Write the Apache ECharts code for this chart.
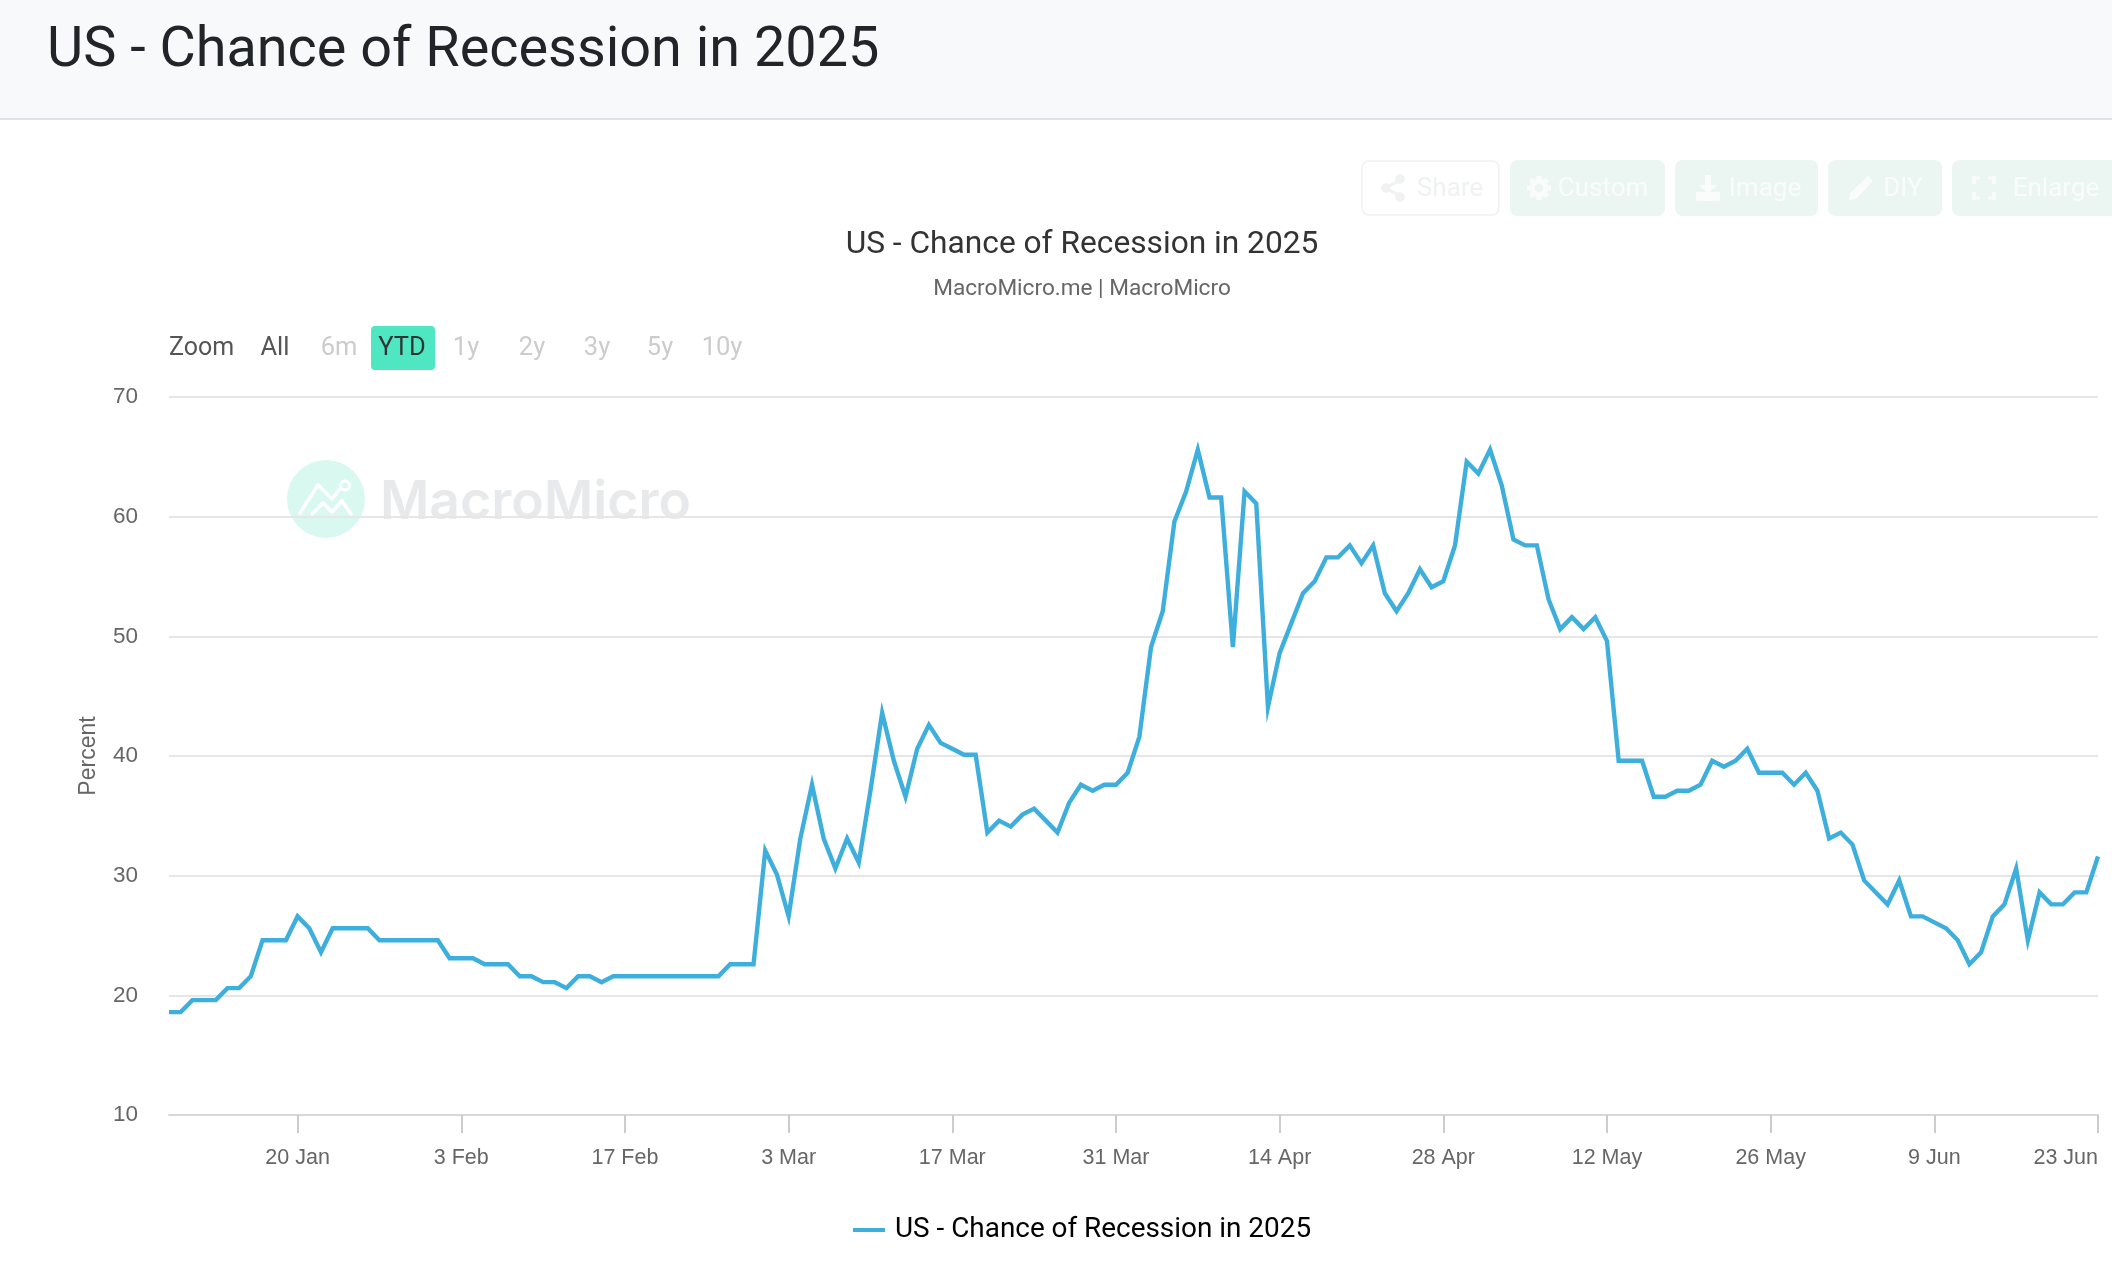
<!DOCTYPE html>
<html>
<head>
<meta charset="utf-8">
<title>US - Chance of Recession in 2025</title>
<style>
  html, body { margin: 0; padding: 0; background: #fff; }
  #chart { width: 2112px; height: 1264px; }
</style>
<script src="https://cdn.jsdelivr.net/npm/echarts@6/dist/echarts.min.js"></script>
</head>
<body>
<div id="chart"></div>
<script>
// Daily readings, 9 Jan to 23 Jun 2025
const seriesName = 'US - Chance of Recession in 2025';
const sourceLine = 'MacroMicro.me | MacroMicro';
const firstDay = '2025-01-09';
const recessionChance = [
  18.6,18.6,19.6,19.6,19.6,20.6,20.6,21.6,24.6,24.6,24.6,26.6,25.6,23.6,25.6,25.6,25.6,25.6,24.6,24.6,
  24.6,24.6,24.6,24.6,23.1,23.1,23.1,22.6,22.6,22.6,21.6,21.6,21.1,21.1,20.6,21.6,21.6,21.1,21.6,21.6,
  21.6,21.6,21.6,21.6,21.6,21.6,21.6,21.6,22.6,22.6,22.6,32.1,30.1,26.6,33.1,37.6,33.1,30.6,33.1,31.1,
  37.1,43.6,39.6,36.6,40.6,42.6,41.1,40.6,40.1,40.1,33.6,34.6,34.1,35.1,35.6,34.6,33.6,36.1,37.6,37.1,
  37.6,37.6,38.6,41.6,49.1,52.1,59.6,62.1,65.6,61.6,61.6,49.1,62.1,61.1,44.1,48.6,51.1,53.6,54.6,56.6,
  56.6,57.6,56.1,57.6,53.6,52.1,53.6,55.6,54.1,54.6,57.6,64.6,63.6,65.6,62.6,58.1,57.6,57.6,53.1,50.6,
  51.6,50.6,51.6,49.6,39.6,39.6,39.6,36.6,36.6,37.1,37.1,37.6,39.6,39.1,39.6,40.6,38.6,38.6,38.6,37.6,
  38.6,37.1,33.1,33.6,32.6,29.6,28.6,27.6,29.6,26.6,26.6,26.1,25.6,24.6,22.6,23.6,26.6,27.6,30.6,24.6,
  28.6,27.6,27.6,28.6,28.6,31.6
];
const xTickLabels = ['20 Jan','3 Feb','17 Feb','3 Mar','17 Mar','31 Mar','14 Apr','28 Apr','12 May','26 May','9 Jun','23 Jun'];
const yTicks = { min: 10, max: 70, step: 10 };
const rangeButtons = [
  ['All', 275, '#555555'], ['6m', 339, '#cccccc'], ['YTD', 402, '#333333'], ['1y', 466, '#cccccc'],
  ['2y', 532, '#cccccc'], ['3y', 597, '#cccccc'], ['5y', 660, '#cccccc'], ['10y', 722, '#cccccc']
];

const MONTHS = ['Jan','Feb','Mar','Apr','May','Jun','Jul','Aug','Sep','Oct','Nov','Dec'];
const dayNames = recessionChance.map((_, i) => {
  const d = new Date(Date.parse(firstDay + 'T00:00:00Z') + i * 86400000);
  return d.getUTCDate() + ' ' + MONTHS[d.getUTCMonth()];
});

const UI_FONT = 'Roboto, "Noto Sans", sans-serif';
const MARK_FONT = 'Inter, "Noto Sans", sans-serif';
const AXIS_FONT = '"Liberation Sans", Arial, sans-serif';

const label = (text, x, y, size, fill, align, weight, family) => ({
  type: 'text',
  silent: true,
  style: {
    text, x, y, fill,
    fontFamily: family || UI_FONT,
    fontSize: size,
    fontWeight: weight || 'normal',
    textAlign: align || 'center',
    textVerticalAlign: 'middle'
  }
});
const box = (x, y, w, h, r, fill, stroke) => ({
  type: 'rect', silent: true,
  shape: { x, y, width: w, height: h, r },
  style: stroke ? { fill, stroke, lineWidth: 2 } : { fill }
});

// Toolbar icons are small groups of primitive shapes around a local origin
const shareIcon = (x, y, c) => ({
  type: 'group', x, y, silent: true,
  children: [
    { type: 'polyline', shape: { points: [[7, -8], [-7, 0], [7, 8]] }, style: { stroke: c, lineWidth: 3, fill: null } },
    { type: 'circle', shape: { cx: 7, cy: -9, r: 4.8 }, style: { fill: c } },
    { type: 'circle', shape: { cx: -7, cy: 0, r: 4.8 }, style: { fill: c } },
    { type: 'circle', shape: { cx: 7, cy: 9, r: 4.8 }, style: { fill: c } }
  ]
});
const gearIcon = (x, y, c, bg) => ({
  type: 'group', x, y, silent: true,
  children: [
    ...[0, 45, 90, 135].map(a => ({
      type: 'line',
      shape: {
        x1: -12 * Math.cos(a * Math.PI / 180), y1: -12 * Math.sin(a * Math.PI / 180),
        x2: 12 * Math.cos(a * Math.PI / 180), y2: 12 * Math.sin(a * Math.PI / 180)
      },
      style: { stroke: c, lineWidth: 5 }
    })),
    { type: 'circle', shape: { cx: 0, cy: 0, r: 9.5 }, style: { fill: c } },
    { type: 'circle', shape: { cx: 0, cy: 0, r: 4 }, style: { fill: bg } }
  ]
});
const downloadIcon = (x, y, c) => ({
  type: 'group', x, y, silent: true,
  children: [
    { type: 'polygon', shape: { points: [[-3, -13], [3, -13], [3, -3], [9, -3], [0, 6], [-9, -3], [-3, -3]] }, style: { fill: c } },
    { type: 'rect', shape: { x: -12, y: 4, width: 24, height: 9, r: 2 }, style: { fill: c } }
  ]
});
const pencilIcon = (x, y, c) => ({
  type: 'group', x, y, silent: true,
  children: [
    { type: 'polygon', shape: { points: [[7, -12], [12, -7], [-5, 11], [-12, 12], [-11, 5]] }, style: { fill: c } }
  ]
});
const enlargeIcon = (x, y, c) => {
  const corner = (sx, sy) => ({
    type: 'polyline',
    shape: { points: [[sx * 10, sy * 4], [sx * 10, sy * 10], [sx * 4, sy * 10]] },
    style: { stroke: c, lineWidth: 3.6, fill: null }
  });
  return { type: 'group', x, y, silent: true, children: [corner(-1, -1), corner(1, -1), corner(-1, 1), corner(1, 1)] };
};

const TOOL_BG = '#ebf5f1';
const TOOL_FG = '#f9fcfb';
const pageGraphics = [
  // Page heading band
  box(0, 0, 2112, 118, 0, '#f8f9fa'),
  box(0, 118, 2112, 2, 0, '#dee2e6'),
  label(seriesName, 47, 52, 55.8, '#212529', 'left'),

  // Toolbar buttons
  box(1362, 161, 137, 54, 7, '#ffffff', '#f4f4f4'),
  shareIcon(1393, 188, '#f0f1f1'),
  label('Share', 1450, 189, 26, '#f0f1f1'),
  box(1510, 160, 155, 56, 8, TOOL_BG),
  gearIcon(1539, 188, TOOL_FG, TOOL_BG),
  label('Custom', 1603, 189, 26, TOOL_FG),
  box(1675, 160, 143, 56, 8, TOOL_BG),
  downloadIcon(1708, 188, TOOL_FG),
  label('Image', 1765, 189, 26, TOOL_FG),
  box(1828, 160, 114, 56, 8, TOOL_BG),
  pencilIcon(1861, 188, TOOL_FG),
  label('DIY', 1903, 189, 26, TOOL_FG),
  box(1952, 160, 170, 56, 8, TOOL_BG),
  enlargeIcon(1984, 188, TOOL_FG),
  label('Enlarge', 2056, 189, 26, TOOL_FG),

  // Range selector
  label('Zoom', 169, 349, 25, '#555555', 'left'),
  box(371, 326, 64, 44, 4, '#4fe6c2'),
  ...rangeButtons.map(b => label(b[0], b[1], 349, 25.5, b[2])),

  // Watermark, behind the grid lines
  { type: 'circle', silent: true, z: -1, shape: { cx: 326, cy: 499, r: 39 }, style: { fill: '#d9f8f0' } },
  { type: 'polyline', silent: true, z: -1,
    shape: { points: [[300, 513], [318, 485], [332, 499], [342, 486]] },
    style: { stroke: '#ffffff', lineWidth: 3.6, fill: null, lineCap: 'round', lineJoin: 'round' } },
  { type: 'polyline', silent: true, z: -1,
    shape: { points: [[312, 514], [323, 503], [332, 512], [342, 501], [351, 514]] },
    style: { stroke: '#ffffff', lineWidth: 3.6, fill: null, lineCap: 'round', lineJoin: 'round' } },
  { type: 'circle', silent: true, z: -1, shape: { cx: 345, cy: 485.5, r: 4.5 }, style: { fill: '#d9f8f0', stroke: '#ffffff', lineWidth: 3 } },
  Object.assign(label('MacroMicro', 380, 503, 53.5, '#e8e9ea', 'left', 600, MARK_FONT), { z: -1 })
];

const chart = echarts.init(document.getElementById('chart'), null, { renderer: 'canvas' });
chart.setOption({
  animation: false,
  backgroundColor: '#ffffff',
  textStyle: { fontFamily: UI_FONT },
  title: [
    {
      text: seriesName, subtext: sourceLine,
      left: 1077, top: 224, textAlign: 'center', itemGap: 17,
      textStyle: { fontFamily: UI_FONT, fontSize: 31.7, fontWeight: 'normal', color: '#333333' },
      subtextStyle: { fontFamily: UI_FONT, fontSize: 22.6, color: '#666666' }
    }
  ],
  legend: {
    show: true,
    left: 853, top: 1216,
    padding: 0,
    itemWidth: 32, itemHeight: 4, itemGap: 10,
    icon: 'rect',
    textStyle: { fontFamily: UI_FONT, fontSize: 27.9, color: '#000000', padding: [0, 0, 0, 5] },
    data: [seriesName]
  },
  grid: { left: 169, right: 14, top: 397, height: 718, containLabel: false },
  xAxis: {
    type: 'category',
    data: dayNames,
    boundaryGap: false,
    axisLine: { lineStyle: { color: '#d8d8d8', width: 2 } },
    axisTick: {
      length: 18,
      lineStyle: { color: '#cccccc', width: 2 },
      interval: (i, name) => xTickLabels.includes(name)
    },
    axisLabel: {
      interval: (i, name) => xTickLabels.includes(name),
      fontFamily: AXIS_FONT, fontSize: 21.5, color: '#666666',
      margin: 32,
      alignMaxLabel: 'right'
    },
    splitLine: { show: false }
  },
  yAxis: {
    type: 'value',
    min: yTicks.min, max: yTicks.max, interval: yTicks.step,
    name: 'Percent',
    nameLocation: 'middle',
    nameGap: 69,
    nameTextStyle: { fontFamily: AXIS_FONT, fontSize: 23, color: '#666666' },
    axisLine: { show: false },
    axisTick: { show: false },
    axisLabel: { fontFamily: AXIS_FONT, fontSize: 22.5, color: '#666666', margin: 31 },
    splitLine: { lineStyle: { color: '#e6e6e6', width: 2 } }
  },
  series: [{
    name: seriesName,
    type: 'line',
    data: recessionChance,
    showSymbol: false,
    symbol: 'none',
    smooth: false,
    color: '#3eafdc',
    lineStyle: { color: '#3eafdc', width: 4.4, join: 'miter', miterLimit: 10 },
    itemStyle: { color: '#3eafdc' },
    emphasis: { disabled: true },
    z: 5
  }],
  graphic: { elements: pageGraphics }
});
</script>
</body>
</html>
